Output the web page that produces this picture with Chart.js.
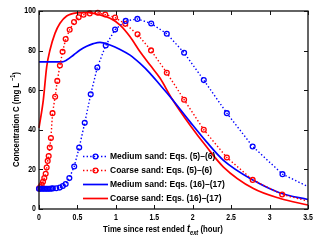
<!DOCTYPE html>
<html>
<head>
<meta charset="utf-8">
<script src="https://cdn.jsdelivr.net/npm/chart.js@4/dist/chart.umd.min.js"></script>
<style>
  html, body { margin: 0; padding: 0; background: #fff; }
  #wrap { width: 320px; height: 246px; position: relative; }
</style>
</head>
<body>
<div id="wrap"><canvas id="chart"></canvas></div>
<script>
// Medium sand, Eqs. (5)-(6)  (circles on a dotted line)
const mediumEq5X = [0, 0.02, 0.04, 0.06, 0.08, 0.1, 0.12, 0.14, 0.16, 0.18, 0.225, 0.27, 0.31, 0.347, 0.395, 0.458, 0.523, 0.595, 0.673, 0.759, 0.868, 0.99, 1.128, 1.28, 1.46, 1.663, 1.888, 2.144, 2.444, 2.78, 3.168, 3.5]
const mediumEq5Y = [10.2, 10.2, 10.2, 10.2, 10.2, 10.2, 10.2, 10.2, 10.3, 10.4, 10.5, 10.8, 11.6, 12.6, 15.6, 21.5, 31, 43.5, 57.9, 71.5, 82.6, 90.6, 95, 96, 93.7, 88.5, 78.9, 65.1, 48.4, 31.6, 17.6, 11.3]

// Coarse sand, Eqs. (5)-(6)
const coarseEq5X = [0, 0.017, 0.035, 0.052, 0.069, 0.087, 0.1, 0.113, 0.126, 0.14, 0.155, 0.176, 0.21, 0.238, 0.272, 0.307, 0.347, 0.399, 0.456, 0.516, 0.58, 0.66, 0.764, 0.862, 0.99, 1.122, 1.282, 1.458, 1.663, 1.888, 2.144, 2.444, 2.78, 3.164, 3.5]
const coarseEq5Y = [10.3, 11.1, 12.2, 13.8, 15.6, 17.8, 20.9, 24.3, 26.8, 31, 35.8, 48.4, 56.7, 64.7, 72.5, 79.4, 85.8, 90.5, 94.4, 96.8, 98.1, 98.8, 99.1, 98.2, 96.7, 93.5, 88.2, 80.1, 68.8, 55.2, 40, 26, 14.7, 7.3, 4]

// Medium sand, Eqs. (16)-(17)  (solid)
const mediumEq16X = [0, 0.3, 0.36, 0.45, 0.534, 0.62, 0.707, 0.794, 0.924, 1.055, 1.185, 1.315, 1.445, 1.576, 1.706, 1.966, 2.18, 2.4, 2.79, 3.138, 3.5]
const mediumEq16Y = [74.3, 74.3, 75.2, 77.8, 80.3, 82.2, 83.5, 84.2, 82.8, 80.6, 77.7, 73.5, 68.5, 62.6, 56.7, 44, 33.9, 24.6, 14.5, 8.1, 4.8]

// Coarse sand, Eqs. (16)-(17)  (solid)
const coarseEq16X = [0, 0.056, 0.1, 0.143, 0.208, 0.273, 0.36, 0.49, 0.62, 0.794, 0.924, 1.055, 1.185, 1.315, 1.445, 1.576, 1.728, 1.966, 2.18, 2.4, 2.79, 3.138, 3.5]
const coarseEq16Y = [41, 55, 71.8, 80.3, 88.7, 93.8, 97.5, 99.1, 99.3, 98, 96.3, 92.9, 87, 79.4, 72.7, 66, 55.8, 42.3, 31.4, 21.2, 10.3, 5.3, 2]

const xTickLabels = ['0', '0.5', '1', '1.5', '2', '2.5', '3', '3.5']
const yTickLabels = ['0', '20', '40', '60', '80', '100']

const legendLabels = [
  'Medium sand: Eqs. (5)\u2013(6)',
  'Coarse sand: Eqs. (5)\u2013(6)',
  'Medium sand: Eqs. (16)\u2013(17)',
  'Coarse sand: Eqs. (16)\u2013(17)'
]

const BLUE = '#0000ff'
const RED = '#ff0000'
const FONT = "'Liberation Sans', Arial, sans-serif"
const SQUEEZE = 0.82   // the original uses a condensed face

const toPoints = (xs, ys) => xs.map((x, i) => ({ x: x, y: ys[i] }))

// the last point of each dotted curve carries no marker
const markerRadius = (n) => (ctx) => ctx.dataIndex === n - 1 ? 0 : 2.4

// draws a run of [text, font, dy] pieces, squeezed horizontally, starting at x
function drawRun(ctx, pieces, cx, y, align) {
  const widths = pieces.map(p => { ctx.font = p[1]; return ctx.measureText(p[0]).width * SQUEEZE })
  const total = widths.reduce((s, w) => s + w, 0)
  let x = align === 'right' ? cx - total : align === 'center' ? cx - total / 2 : cx
  pieces.forEach((p, i) => {
    ctx.save()
    ctx.font = p[1]
    ctx.translate(x, y + (p[2] || 0))
    ctx.scale(SQUEEZE, 1)
    ctx.textAlign = 'left'
    ctx.fillText(p[0], 0, 0)
    ctx.restore()
    x += widths[i]
  })
}

const frameAndLegend = {
  id: 'frameAndLegend',
  afterDatasetsDraw(chart) {
    const ctx = chart.ctx
    const a = chart.chartArea
    const xs = chart.scales.x
    const ys = chart.scales.y
    ctx.save()
    ctx.strokeStyle = '#111'
    ctx.lineWidth = 1.3
    ctx.strokeRect(a.left, a.top, a.right - a.left, a.bottom - a.top)

    // inward ticks on all four sides
    ctx.lineWidth = 1
    ctx.beginPath()
    xs.ticks.forEach(t => {
      const px = Math.round(xs.getPixelForValue(t.value)) + 0.5
      ctx.moveTo(px, a.bottom); ctx.lineTo(px, a.bottom - 4)
      ctx.moveTo(px, a.top); ctx.lineTo(px, a.top + 4)
    })
    ys.ticks.forEach(t => {
      const py = Math.round(ys.getPixelForValue(t.value)) + 0.5
      ctx.moveTo(a.left, py); ctx.lineTo(a.left + 4, py)
      ctx.moveTo(a.right, py); ctx.lineTo(a.right - 4, py)
    })
    ctx.stroke()

    // tick labels
    ctx.fillStyle = '#000'
    ctx.textBaseline = 'middle'
    const tf = 'bold 8.5px ' + FONT
    xs.ticks.forEach((t, i) => {
      drawRun(ctx, [[xTickLabels[i], tf]], xs.getPixelForValue(t.value), a.bottom + 9, 'center')
    })
    ys.ticks.forEach((t, i) => {
      drawRun(ctx, [[yTickLabels[i], tf]], a.left - 3, ys.getPixelForValue(t.value), 'right')
    })

    // legend, inside the axes, no box
    const lx0 = 83, lx1 = 108, tx = 110
    ctx.font = 'bold 8.5px ' + FONT
    ctx.textBaseline = 'middle'
    ctx.textAlign = 'left'
    chart.data.datasets.forEach((ds, i) => {
      const y = 156.5 + i * 14
      ctx.strokeStyle = ds.borderColor
      ctx.lineWidth = ds.borderWidth
      ctx.setLineDash(ds.borderDash || [])
      ctx.beginPath()
      ctx.moveTo(lx0, y); ctx.lineTo(lx1, y)
      ctx.stroke()
      ctx.setLineDash([])
      if (ds.dotted) {
        ctx.lineWidth = 1.3
        ctx.beginPath()
        ctx.arc((lx0 + lx1) / 2, y, 2.4, 0, Math.PI * 2)
        ctx.stroke()
      }
      ctx.fillStyle = '#000'
      ctx.fillText(legendLabels[i], tx, y + 0.5)
    })

    // x axis title: Time since rest ended t_ext (hour)
    ctx.fillStyle = '#000'
    ctx.textBaseline = 'alphabetic'
    const f1 = 'bold 9.5px ' + FONT
    const f2 = 'italic bold 11px ' + FONT
    const f3 = 'italic bold 7px ' + FONT
    drawRun(ctx, [
      ['Time since rest ended ', f1],
      ['t', f2],
      ['ext', f3, 3],
      [' (hour)', f1]
    ], 163, 232, 'center')

    // y axis title: Concentration C (mg L^-1)
    ctx.save()
    ctx.translate(18.5, 119.5)
    ctx.rotate(-Math.PI / 2)
    drawRun(ctx, [
      ['Concentration C (mg L ', f1],
      ['\u22121', 'bold 6.5px ' + FONT, -4],
      [')', f1]
    ], 0, 0, 'center')
    ctx.restore()
    ctx.restore()
  }
}

new Chart(document.getElementById('chart'), {
  type: 'scatter',
  data: {
    datasets: [
      {
        label: legendLabels[0],
        data: toPoints(mediumEq5X, mediumEq5Y),
        showLine: true,
        dotted: true,
        borderColor: BLUE,
        borderWidth: 1.4,
        borderDash: [1.4, 2.2],
        pointStyle: 'circle',
        pointRadius: markerRadius(mediumEq5X.length),
        pointBorderWidth: 1.3,
        pointBorderColor: BLUE,
        pointBackgroundColor: 'rgba(0,0,0,0)',
        clip: false
      },
      {
        label: legendLabels[1],
        data: toPoints(coarseEq5X, coarseEq5Y),
        showLine: true,
        dotted: true,
        borderColor: RED,
        borderWidth: 1.4,
        borderDash: [1.4, 2.2],
        pointStyle: 'circle',
        pointRadius: markerRadius(coarseEq5X.length),
        pointBorderWidth: 1.3,
        pointBorderColor: RED,
        pointBackgroundColor: 'rgba(0,0,0,0)',
        clip: false
      },
      {
        label: legendLabels[2],
        data: toPoints(mediumEq16X, mediumEq16Y),
        showLine: true,
        borderColor: BLUE,
        borderWidth: 1.7,
        pointRadius: 0,
        cubicInterpolationMode: 'monotone',
        clip: false
      },
      {
        label: legendLabels[3],
        data: toPoints(coarseEq16X, coarseEq16Y),
        showLine: true,
        borderColor: RED,
        borderWidth: 1.7,
        pointRadius: 0,
        cubicInterpolationMode: 'monotone',
        clip: false
      }
    ]
  },
  options: {
    responsive: true,
    maintainAspectRatio: false,
    animation: false,
    events: [],
    layout: {
      padding: { top: 11, right: 12, left: 0, bottom: 0 }
    },
    plugins: {
      legend: { display: false },
      tooltip: { enabled: false }
    },
    scales: {
      x: {
        type: 'linear',
        min: 0,
        max: 3.5,
        afterFit: (s) => { s.height = 37 },
        afterBuildTicks: (s) => { s.ticks = xTickLabels.map(v => ({ value: parseFloat(v) })) },
        grid: { display: false, drawTicks: false },
        border: { display: false },
        ticks: { display: false }
      },
      y: {
        type: 'linear',
        min: 0,
        max: 100,
        afterFit: (s) => { s.width = 39 },
        afterBuildTicks: (s) => { s.ticks = yTickLabels.map(v => ({ value: parseFloat(v) })) },
        grid: { display: false, drawTicks: false },
        border: { display: false },
        ticks: { display: false }
      }
    }
  },
  plugins: [frameAndLegend]
})
</script>
</body>
</html>
